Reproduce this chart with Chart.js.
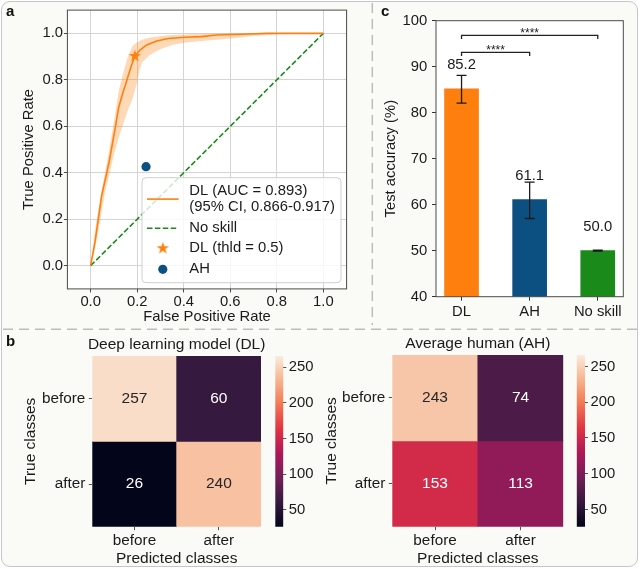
<!DOCTYPE html>
<html><head><meta charset="utf-8">
<script src="https://cdn.jsdelivr.net/npm/chart.js@4.4.1/dist/chart.umd.min.js"></script>
<style>
html,body{margin:0;padding:0;background:#ffffff;}
#fig{position:absolute;left:0;top:0;width:640px;height:569px;overflow:hidden;}
#frame{position:absolute;left:1px;top:1px;width:637px;height:566px;border:1.5px solid #c6c6c6;border-radius:9px;background:#fafaf6;box-sizing:border-box;}
canvas{position:absolute;}
svg{position:absolute;left:0;top:0;}
.plab{position:absolute;font:bold 15px "Liberation Sans",Arial,sans-serif;line-height:15px;color:#111;}
</style></head>
<body>
<div id="fig">
  <div id="frame"></div>
  <svg width="640" height="569">
    <line x1="372.3" y1="3" x2="372.3" y2="325" stroke="#bdbdbd" stroke-width="1.5" stroke-dasharray="10 6"/>
    <line x1="3" y1="329.3" x2="637" y2="329.3" stroke="#bdbdbd" stroke-width="1.5" stroke-dasharray="10 6"/>
  </svg>
  <canvas id="roc" width="372" height="329" style="left:0;top:0"></canvas>
  <canvas id="bar" width="268" height="329" style="left:372px;top:0"></canvas>
  <canvas id="hmDL" width="270" height="240" style="left:0;top:329px"></canvas>
  <canvas id="cbDL" width="70" height="240" style="left:270px;top:329px"></canvas>
  <canvas id="hmAH" width="250" height="240" style="left:320px;top:329px"></canvas>
  <canvas id="cbAH" width="70" height="240" style="left:570px;top:329px"></canvas>
  <div class="plab" style="left:6px;top:2.5px">a</div>
  <div class="plab" style="left:381px;top:2.5px">c</div>
  <div class="plab" style="left:6px;top:332.5px">b</div>
</div>
<script>
// ---------------- DATA ----------------
// Panel a: ROC
const rocFpr = [0, 0.02, 0.047, 0.08, 0.105, 0.12, 0.14, 0.15, 0.162, 0.176, 0.19, 0.212, 0.241, 0.284, 0.334, 0.405, 0.477, 0.54, 0.65, 0.757, 0.85, 1.0];
const rocTpr = [0, 0.11, 0.30, 0.45, 0.59, 0.68, 0.75, 0.78, 0.82, 0.864, 0.902, 0.928, 0.95, 0.967, 0.978, 0.983, 0.986, 0.993, 0.996, 1.0, 1.0, 1.0];
const bandFpr  = [0, 0.02, 0.04, 0.06, 0.08, 0.10, 0.12, 0.14, 0.16, 0.18, 0.20, 0.21, 0.22, 0.25, 0.30, 0.35, 0.40, 0.50, 0.60, 0.70, 0.80, 0.90, 1.0];
const bandLow  = [0, 0.08, 0.19, 0.31, 0.39, 0.48, 0.55, 0.61, 0.67, 0.72, 0.79, 0.84, 0.875, 0.905, 0.933, 0.950, 0.960, 0.969, 0.978, 0.988, 0.996, 1.0, 1.0];
const bandHigh = [0, 0.16, 0.28, 0.39, 0.50, 0.62, 0.75, 0.83, 0.90, 0.945, 0.962, 0.967, 0.972, 0.981, 0.988, 0.993, 0.995, 0.998, 1.0, 1.0, 1.0, 1.0, 1.0];
const noSkillX = [0, 1];
const noSkillY = [0, 1];
const dlThreshold = {x: 0.19, y: 0.902};
const ahPoint = {x: 0.238, y: 0.426};
const rocTicks = [0, 0.2, 0.4, 0.6, 0.8, 1.0];
const rocLabels = ['DL (AUC = 0.893)\n(95% CI, 0.866-0.917)', 'No skill', 'DL (thld = 0.5)', 'AH'];

// Panel c: accuracy bars
const barCats = ['DL', 'AH', 'No skill'];
const barValues = [85.2, 61.1, 50.0];
const barErrLow = [82.1, 57.0, 49.9];
const barErrHigh = [88.1, 64.9, 50.1];
const barTicks = [40, 50, 60, 70, 80, 90, 100];
const sigPairs = [[0, 1], [0, 2]];
const sigLevels = [93.1, 96.8];
const sigText = ['****', '****'];

// Panel b: confusion matrices
const classLabels = ['before', 'after'];
const dlMatrix = [[257, 60], [26, 240]];
const ahMatrix = [[243, 74], [153, 113]];
const cbTicks = [50, 100, 150, 200, 250];
const cMin = 26, cMax = 266;

// ---------------- STYLE ----------------
const FONT = '"Liberation Sans", Arial, Helvetica, sans-serif';
const TXT = '#1a1a1a';
const ORANGE = '#ff7f0e', BLUE = '#0c5081', GREEN = '#1a8a1a';
Chart.defaults.font.family = FONT;
Chart.defaults.font.size = 14.8;
Chart.defaults.color = TXT;

const rocketStops = [[0,'#03051a'],[1/7,'#35193e'],[2/7,'#701f57'],[3/7,'#ad1759'],[4/7,'#e13342'],[5/7,'#f37651'],[6/7,'#f6b48f'],[1,'#faebdd']];
function hex2rgb(h){return [parseInt(h.slice(1,3),16),parseInt(h.slice(3,5),16),parseInt(h.slice(5,7),16)];}
function rocket(t){
  t = Math.max(0, Math.min(1, t));
  for (let i = 1; i < rocketStops.length; i++) {
    if (t <= rocketStops[i][0]) {
      const [t0,c0] = rocketStops[i-1], [t1,c1] = rocketStops[i];
      const f = (t - t0) / (t1 - t0), a = hex2rgb(c0), b = hex2rgb(c1);
      return a.map((v,k)=>Math.round(v + (b[k]-v)*f));
    }
  }
  return hex2rgb(rocketStops[rocketStops.length-1][1]);
}
function rgbStr(c){return 'rgb('+c[0]+','+c[1]+','+c[2]+')';}
function lum(c){return (0.2126*c[0]+0.7152*c[1]+0.0722*c[2])/255;}

function makeStar(R, color){
  const c = document.createElement('canvas'); const s = Math.ceil(2*R+2);
  c.width = s; c.height = s; const g = c.getContext('2d');
  g.beginPath();
  for (let k = 0; k < 10; k++) {
    const r = k % 2 === 0 ? R : R * 0.382; const ang = -Math.PI/2 + k*Math.PI/5;
    g.lineTo(s/2 + r*Math.cos(ang), s/2 + r*Math.sin(ang));
  }
  g.closePath(); g.fillStyle = color; g.fill(); return c;
}
const starImg = makeStar(6.6, ORANGE);

const bgFrame = {
  id: 'bgFrame',
  beforeDraw(chart, args, o){
    if (!o.bg) return; const {ctx, chartArea:a} = chart;
    ctx.save(); ctx.fillStyle = o.bg; ctx.fillRect(a.left, a.top, a.right-a.left, a.bottom-a.top); ctx.restore();
  },
  afterDatasetsDraw(chart, args, o){
    if (!o.frame) return; const {ctx, chartArea:a} = chart;
    ctx.save(); ctx.strokeStyle = o.frame; ctx.lineWidth = 1;
    ctx.strokeRect(a.left, a.top, a.right-a.left, a.bottom-a.top); ctx.restore();
  }
};

function fixedTicks(arr){ return (s) => { s.ticks = arr.map(v => ({value: v})); }; }

// ---------------- Panel a ----------------
const rocLegend = {
  id: 'rocLegend',
  afterDraw(chart){
    const {ctx, chartArea:a} = chart;
    const w = 199, h = 105;
    const x0 = a.right - 5.6 - w, y0 = a.bottom - 6.2 - h;
    ctx.save();
    ctx.beginPath();
    if (ctx.roundRect) ctx.roundRect(x0, y0, w, h, 4); else ctx.rect(x0, y0, w, h);
    ctx.fillStyle = 'rgba(255,255,255,0.8)'; ctx.fill();
    ctx.strokeStyle = '#cfcfcf'; ctx.lineWidth = 1; ctx.stroke();
    const hx0 = x0 + 5, hx1 = x0 + 36.6, hc = (hx0 + hx1)/2, tx = x0 + 47.3;
    ctx.font = '14.8px ' + FONT; ctx.fillStyle = TXT; ctx.textAlign = 'left'; ctx.textBaseline = 'middle';
    const rows = rocLabels.map(l => l.split('\n'));
    ctx.strokeStyle = ORANGE; ctx.lineWidth = 1.6;
    ctx.beginPath(); ctx.moveTo(hx0, y0+21.4); ctx.lineTo(hx1, y0+21.4); ctx.stroke();
    ctx.fillText(rows[0][0], tx, y0+13.3); ctx.fillText(rows[0][1], tx, y0+29.6);
    ctx.strokeStyle = GREEN; ctx.setLineDash([5.5, 2.4]);
    ctx.beginPath(); ctx.moveTo(hx0, y0+50.6); ctx.lineTo(hx1, y0+50.6); ctx.stroke();
    ctx.setLineDash([]);
    ctx.fillText(rows[1][0], tx, y0+50.6);
    ctx.drawImage(starImg, hc - starImg.width/2, y0+70.6 - starImg.height/2);
    ctx.fillText(rows[2][0], tx, y0+70.6);
    ctx.fillStyle = BLUE; ctx.beginPath(); ctx.arc(hc, y0+91.6, 4.6, 0, 2*Math.PI); ctx.fill();
    ctx.fillStyle = TXT; ctx.fillText(rows[3][0], tx, y0+91.6);
    ctx.restore();
  }
};

new Chart(document.getElementById('roc'), {
  type: 'line',
  data: {
    datasets: [
      {label: 'band low', data: bandFpr.map((x,i)=>({x, y: bandLow[i]})), borderWidth: 0, pointRadius: 0, fill: false, order: 10},
      {label: 'band high', data: bandFpr.map((x,i)=>({x, y: bandHigh[i]})), borderWidth: 0, pointRadius: 0, fill: '-1', backgroundColor: 'rgba(255,127,14,0.3)', order: 10},
      {label: rocLabels[1], data: noSkillX.map((x,i)=>({x, y: noSkillY[i]})), borderColor: GREEN, borderWidth: 1.6, borderDash: [5.5, 2.4], pointRadius: 0, fill: false, order: 5},
      {label: rocLabels[0], data: rocFpr.map((x,i)=>({x, y: rocTpr[i]})), borderColor: ORANGE, borderWidth: 1.6, pointRadius: 0, fill: false, order: 3},
      {label: rocLabels[2], data: [dlThreshold], showLine: false, pointStyle: starImg, pointRadius: 7, order: 1},
      {label: rocLabels[3], data: [ahPoint], showLine: false, pointRadius: 4.6, pointBackgroundColor: BLUE, pointBorderWidth: 0, order: 1}
    ]
  },
  options: {
    responsive: false, animation: false, devicePixelRatio: 1,
    layout: {padding: {left: 0, top: 10.1, right: 25.4, bottom: 0}},
    plugins: {legend: {display: false}, tooltip: {enabled: false}, bgFrame: {bg: '#ffffff', frame: '#4a4a4a'}},
    scales: {
      x: {type: 'linear', min: -0.1, max: 1.1, afterBuildTicks: fixedTicks(rocTicks),
          ticks: {callback: v => v.toFixed(1), padding: 0.6, autoSkip: false, maxRotation: 0},
          grid: {color: '#d4d4d4', lineWidth: 1, tickColor: '#4a4a4a', tickLength: 3.5},
          border: {display: false},
          title: {display: true, text: 'False Positive Rate', padding: {top: 0, bottom: 3.0}},
          afterFit: s => { s.height = 40.1; }},
      y: {type: 'linear', min: -0.1, max: 1.1, afterBuildTicks: fixedTicks(rocTicks),
          ticks: {callback: v => v.toFixed(1), padding: 0.8, autoSkip: false},
          grid: {color: '#d4d4d4', lineWidth: 1, tickColor: '#4a4a4a', tickLength: 3.5},
          border: {display: false},
          title: {display: true, text: 'True Positive Rate', padding: {top: 20.4, bottom: 0}},
          afterFit: s => { s.width = 67.4; }}
    }
  },
  plugins: [bgFrame, rocLegend]
});

// ---------------- Panel c ----------------
const barExtras = {
  id: 'barExtras',
  afterDatasetsDraw(chart){
    const {ctx, scales:{x, y}} = chart;
    ctx.save();
    ctx.strokeStyle = '#1a1a1a'; ctx.lineWidth = 1.3;
    barValues.forEach((v, i) => {
      const px = x.getPixelForValue(i), yl = y.getPixelForValue(barErrLow[i]), yh = y.getPixelForValue(barErrHigh[i]);
      ctx.beginPath();
      ctx.moveTo(px, yl); ctx.lineTo(px, yh);
      ctx.moveTo(px-5, yl); ctx.lineTo(px+5, yl);
      ctx.moveTo(px-5, yh); ctx.lineTo(px+5, yh);
      ctx.stroke();
    });
    ctx.font = '14.8px ' + FONT; ctx.fillStyle = TXT; ctx.textAlign = 'center'; ctx.textBaseline = 'middle';
    barValues.forEach((v, i) => {
      ctx.fillText(v.toFixed(1), x.getPixelForValue(i), y.getPixelForValue(v + 5.1));
    });
    ctx.lineWidth = 1.3; ctx.strokeStyle = '#222';
    sigPairs.forEach(([i, j], k) => {
      const xa = x.getPixelForValue(i), xb = x.getPixelForValue(j), py = y.getPixelForValue(sigLevels[k]);
      ctx.beginPath(); ctx.moveTo(xa, py+3.5); ctx.lineTo(xa, py); ctx.lineTo(xb, py); ctx.lineTo(xb, py+3.5); ctx.stroke();
      ctx.font = '12px ' + FONT; ctx.textBaseline = 'alphabetic';
      ctx.fillText(sigText[k], (xa+xb)/2, py + 1.5);
    });
    ctx.restore();
  }
};

new Chart(document.getElementById('bar'), {
  type: 'bar',
  data: {
    datasets: [{label: 'Test accuracy', data: barValues.map((v,i)=>({x: i, y: v})),
      backgroundColor: [ORANGE, BLUE, GREEN], borderWidth: 0, barThickness: 34}]
  },
  options: {
    responsive: false, animation: false, devicePixelRatio: 1,
    layout: {padding: {left: 0, top: 20.7, right: 16.7, bottom: 0}},
    plugins: {legend: {display: false}, tooltip: {enabled: false}, bgFrame: {bg: '#ffffff', frame: '#4a4a4a'}},
    scales: {
      x: {type: 'linear', offset: false, min: -0.375, max: 2.375, afterBuildTicks: fixedTicks([0,1,2]),
          ticks: {callback: v => barCats[v], padding: 2.3, autoSkip: false, maxRotation: 0},
          grid: {drawOnChartArea: false, offset: false, tickColor: '#333', tickLength: 4},
          border: {display: false},
          afterFit: s => { s.height = 32.3; }},
      y: {type: 'linear', min: 40, max: 100, afterBuildTicks: fixedTicks(barTicks),
          ticks: {padding: 4.7, autoSkip: false},
          grid: {drawOnChartArea: false, tickColor: '#333', tickLength: 4},
          border: {display: false},
          title: {display: true, text: 'Test accuracy (%)', padding: {top: 10, bottom: 0}},
          afterFit: s => { s.width = 64; }}
    }
  },
  plugins: [bgFrame, barExtras]
});

// ---------------- Panel b ----------------
const heatExtras = {
  id: 'heatExtras',
  afterDatasetsDraw(chart, args, o){
    const {ctx, chartArea:a} = chart;
    ctx.save();
    ctx.textAlign = 'center'; ctx.textBaseline = 'middle';
    ctx.font = '15.5px ' + FONT;
    chart.data.datasets.forEach((ds, r) => {
      chart.getDatasetMeta(r).data.forEach((bar, c) => {
        const v = o.matrix[r][c];
        const col = rocket((v - cMin)/(cMax - cMin));
        ctx.fillStyle = lum(col) > 0.45 ? '#262626' : '#ffffff';
        ctx.fillText(String(v), bar.x, (bar.y + bar.base)/2);
      });
    });
    ctx.font = '15.5px ' + FONT; ctx.fillStyle = TXT;
    ctx.fillText(o.title, (a.left + a.right)/2, o.titleY);
    ctx.restore();
  }
};

function heatmap(id, matrix, title, g){
  new Chart(document.getElementById(id), {
    type: 'bar',
    data: {
      labels: classLabels,
      datasets: classLabels.map((lab, r) => ({
        label: lab, data: classLabels.map(() => 1),
        backgroundColor: matrix[r].map(v => rgbStr(rocket((v - cMin)/(cMax - cMin)))),
        borderWidth: 0, barPercentage: 1, categoryPercentage: 1
      }))
    },
    options: {
      responsive: false, animation: false, devicePixelRatio: 1,
      layout: {padding: {left: 0, top: g.top, right: g.right, bottom: 0}},
      plugins: {legend: {display: false}, tooltip: {enabled: false},
                heatExtras: {matrix, title, titleY: g.titleY}},
      scales: {
        x: {stacked: true, ticks: {padding: 1.2, font: {size: 15.3}, maxRotation: 0},
            grid: {drawOnChartArea: false, offset: false, tickColor: '#555', tickLength: 3.5},
            border: {display: false},
            title: {display: true, text: 'Predicted classes', font: {size: 15.5}, padding: {top: 0, bottom: 1}},
            afterFit: s => { s.height = 42.3; }},
        y: {stacked: true, reverse: true, min: 0, max: 2,
            afterBuildTicks: fixedTicks([0.5, 1.5]),
            ticks: {callback: v => classLabels[Math.floor(v)], padding: 3.5, font: {size: 15.3}, autoSkip: false},
            grid: {drawOnChartArea: false, tickColor: '#555', tickLength: 3.5},
            border: {display: false},
            title: {display: true, text: 'True classes', font: {size: 15.5}, padding: {top: g.ytitle, bottom: 0}},
            afterFit: s => { s.width = g.left; }}
      }
    },
    plugins: [heatExtras]
  });
}

function colorbar(id, g){
  new Chart(document.getElementById(id), {
    type: 'bar',
    data: {
      labels: ['scale'],
      datasets: [{label: 'scale', data: [[cMin, cMax]], borderWidth: 0, barPercentage: 1, categoryPercentage: 1,
        backgroundColor: (c) => {
          const a = c.chart.chartArea;
          if (!a || !isFinite(a.top) || !isFinite(a.bottom) || a.bottom <= a.top) return '#888888';
          const grad = c.chart.ctx.createLinearGradient(0, a.bottom, 0, a.top);
          rocketStops.forEach(([t, col]) => grad.addColorStop(t, col));
          return grad;
        }}]
    },
    options: {
      responsive: false, animation: false, devicePixelRatio: 1,
      layout: {padding: {left: g.left, top: g.top, right: 0, bottom: 42.3}},
      plugins: {legend: {display: false}, tooltip: {enabled: false}},
      scales: {
        x: {display: false},
        y: {position: 'right', min: cMin, max: cMax, afterBuildTicks: fixedTicks(cbTicks),
            ticks: {padding: 2.5, autoSkip: false},
            grid: {drawOnChartArea: false, tickColor: '#555', tickLength: 3},
            border: {display: false},
            afterFit: s => { s.width = g.w; }}
      }
    }
  });
}

heatmap('hmDL', dlMatrix, 'Deep learning model (DL)', {left: 92.3, right: 9, top: 27, titleY: 16, ytitle: 21.4});
heatmap('hmAH', ahMatrix, 'Average human (AH)', {left: 72.3, right: 6.7, top: 26, titleY: 15, ytitle: 2.4});
colorbar('cbDL', {left: 5.3, top: 27, w: 56.7});
colorbar('cbAH', {left: 6.7, top: 26, w: 55});
</script>
</body></html>
